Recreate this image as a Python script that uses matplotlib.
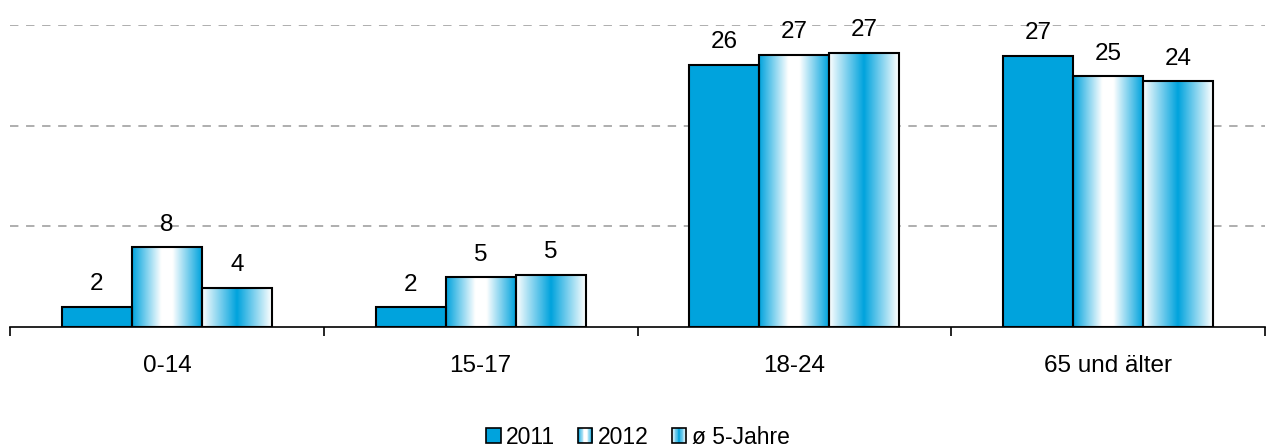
import numpy as np
import matplotlib
matplotlib.use("Agg")
import matplotlib.pyplot as plt
from matplotlib.colors import LinearSegmentedColormap
from matplotlib.patches import Rectangle
from matplotlib.legend_handler import HandlerBase

plt.rcParams['font.family'] = ['Liberation Sans', 'DejaVu Sans']

categories = ["0-14", "15-17", "18-24", "65 und älter"]
series_names = ["2011", "2012", "ø 5-Jahre"]
v2011 = [1.96, 1.95, 26.0, 26.95]
v2012 = [7.9, 4.93, 27.0, 24.9]
vavg = [3.9, 5.16, 27.2, 24.4]
labels2011 = ["2", "2", "26", "27"]
labels2012 = ["8", "5", "27", "25"]
labelsavg = ["4", "5", "27", "24"]

BLUE = "#00A3DD"
W = 1266; H = 446
fig = plt.figure(figsize=(W/100, H/100), dpi=100)
ax = fig.add_axes([10/W, 1-327/H, (1265-10)/W, (327-25)/H])
ax.set_xlim(-0.5, 3.5)
ax.set_ylim(0, 30)

cm_edge = LinearSegmentedColormap.from_list("edge", [(0, BLUE), (0.42, "#FFFFFF"), (0.58, "#FFFFFF"), (1, BLUE)])
cm_center = LinearSegmentedColormap.from_list("center", [(0, "#FFFFFF"), (0.5, BLUE), (1, "#FFFFFF")])
grad = np.linspace(0, 1, 256).reshape(1, -1)

bw = 0.223
x = np.arange(len(categories))
fs = 17.5

def draw_bar(xc, h, style):
    x0 = xc - bw/2
    if style == "solid":
        r = Rectangle((x0, 0), bw, h, facecolor=BLUE, edgecolor="black", linewidth=1.5, zorder=3)
        ax.add_patch(r)
    else:
        cm = cm_edge if style == "edge" else cm_center
        im = ax.imshow(grad, cmap=cm, aspect="auto", extent=(x0, x0+bw, 0, h), zorder=2.5,
                       interpolation="bilinear")
        r = Rectangle((x0, 0), bw, h, facecolor="none", edgecolor="black", linewidth=1.5, zorder=3)
        ax.add_patch(r)
        im.set_clip_path(r)

for i in range(len(categories)):
    for j, (vals, labs, style) in enumerate([(v2011, labels2011, "solid"), (v2012, labels2012, "edge"), (vavg, labelsavg, "center")]):
        xc = x[i] + (j-1)*bw
        draw_bar(xc, vals[i], style)
        ax.annotate(labs[i], (xc, vals[i]), xytext=(0, 8.5), textcoords="offset points",
                    ha="center", va="bottom", fontsize=fs, zorder=5, annotation_clip=False)

ax.set_aspect("auto")
ax.set_xlim(-0.5, 3.5)
ax.set_ylim(0, 30)
ax.set_yticks([10, 20, 30])
ax.yaxis.grid(True, color="#999999", linestyle=(0, (5.5, 5)), linewidth=1.1)
ax.set_axisbelow(True)
ax.tick_params(axis="y", left=False, labelleft=False)
ax.set_xticks(x)
ax.set_xticklabels(categories, fontsize=fs)
ax.tick_params(axis="x", which="major", length=0, pad=20)
ax.set_xticks(np.arange(-0.5, 3.6, 1), minor=True)
ax.tick_params(axis="x", which="minor", length=6.5, width=1.2, direction="out", color="black")
for s in ["top", "right", "left"]:
    ax.spines[s].set_visible(False)
ax.spines["bottom"].set_linewidth(1.2)

class GradHandler(HandlerBase):
    def __init__(self, style):
        super().__init__()
        self.style = style
    def create_artists(self, legend, orig_handle, xdescent, ydescent, width, height, fontsize, trans):
        s = width
        y0 = -ydescent + (height - s)/2
        x0 = xdescent
        arts = []
        if self.style == "solid":
            arts.append(Rectangle((x0, y0), s, s, facecolor=BLUE, edgecolor="black", lw=1.2, transform=trans))
        else:
            cols = 20
            cm = cm_edge if self.style == "edge" else cm_center
            for k in range(cols):
                arts.append(Rectangle((x0 + k*s/cols, y0), s/cols + 0.3, s,
                                      facecolor=cm((k+0.5)/cols), edgecolor="none", transform=trans))
            arts.append(Rectangle((x0, y0), s, s, facecolor="none", edgecolor="black", lw=1.2, transform=trans))
        return arts

lfs = 16.5
h1 = Rectangle((0, 0), 1, 1); h2 = Rectangle((0, 0), 1, 1); h3 = Rectangle((0, 0), 1, 1)
fig.legend([h1, h2, h3], series_names, loc="center", bbox_to_anchor=(638/W, 1-437/H),
           ncol=3, frameon=False, fontsize=lfs, handlelength=0.62, handleheight=0.62,
           handletextpad=0.25, columnspacing=1.0, borderpad=0.1,
           handler_map={h1: GradHandler("solid"), h2: GradHandler("edge"), h3: GradHandler("center")})

fig.savefig("out.png", dpi=100)
